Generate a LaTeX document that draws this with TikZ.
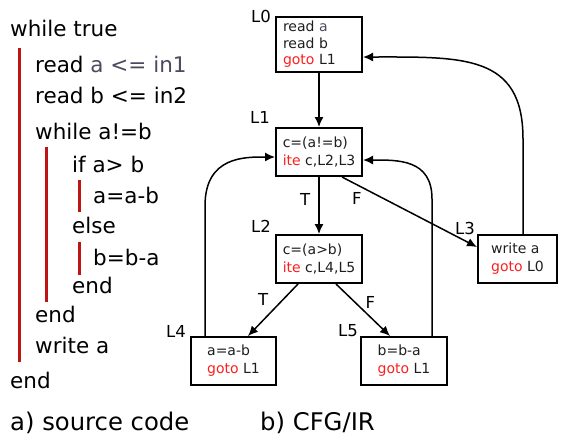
\documentclass[tikz,border=0pt]{standalone}
\usepackage{fontspec}
\setmainfont{DejaVu Sans}
\usetikzlibrary{arrows.meta,positioning}
\definecolor{irred}{RGB}{250,30,30}
\definecolor{barred}{RGB}{190,20,20}
\definecolor{vargray}{RGB}{75,75,95}
\definecolor{boxtext}{RGB}{30,30,30}
\tikzset{
  code/.style={anchor=base west,inner sep=0pt,font=\fontsize{21.5}{26}\selectfont},
  bar/.style={barred,line width=3pt},
  blk/.style={draw,line width=2pt,align=left,inner sep=3pt,text=boxtext,
    minimum width=86pt,minimum height=48pt,font=\fontsize{14}{18}\selectfont},
  lbl/.style={inner sep=0pt,font=\fontsize{16.5}{20}\selectfont},
  caption/.style={anchor=base west,inner sep=0pt,font=\fontsize{24.3}{28}\selectfont},
  edge/.style={line width=1.5pt,-{Latex[length=10pt,width=9pt]}}
}
\newcommand{\kw}[1]{{\color{irred}#1}}
\begin{document}
\begin{tikzpicture}[x=1pt,y=-1pt]
    \useasboundingbox (0,0) rectangle (561,445);
    % a) source code
    \node[code] (c1) at (10,36) {while true};
    \node[code] (c2) at (35,72) {read {\color{vargray}a <= in1}};
    \node[code] (c3) at (35,103) {read b <= in2};
    \node[code] (c4) at (35,139) {while a!=b};
    \node[code] (c5) at (72,172) {if a> b};
    \node[code] (c6) at (93,203) {a=a-b};
    \node[code] (c7) at (72,233) {else};
    \node[code] (c8) at (93,265) {b=b-a};
    \node[code] (c9) at (72,293) {end};
    \node[code] (c10) at (35,322) {end};
    \node[code] (c11) at (35,353) {write a};
    \node[code] (c12) at (10,388) {end};
    \draw[bar] (19,48) -- (19,362);
    \draw[bar] (46,147) -- (46,302);
    \draw[bar] (79,180) -- (79,212);
    \draw[bar] (79,242) -- (79,275);
    % b) CFG/IR
    \node[blk,minimum height=55pt,text width=72pt,inner xsep=7pt,
      font=\fontsize{14}{16.5}\selectfont] (L0) at (319,44.5) {read {\color{vargray}a}\\read b\\\kw{goto} L1};
    \node[blk] (L1) at (319,152) {c=(a!=b)\\\kw{ite} c,L2,L3};
    \node[blk] (L2) at (319,259) {c=(a>b)\\\kw{ite} c,L4,L5};
    \node[blk,minimum width=79pt] (L3) at (517.5,259) {write a\\\kw{goto} L0};
    \node[blk,minimum width=85pt] (L4) at (233.5,361) {a=a-b\\\kw{goto} L1};
    \node[blk] (L5) at (404,361) {b=b-a\\\kw{goto} L1};
    \node[lbl] (n0) at (261,16) {L0};
    \node[lbl] (n1) at (260,117) {L1};
    \node[lbl] (n2) at (261,226) {L2};
    \node[lbl] (n3) at (465,228) {L3};
    \node[lbl] (n4) at (176,331) {L4};
    \node[lbl] (n5) at (348,331) {L5};
    \draw[edge] (L0) -- (L1);
    \draw[edge] (L1) -- (L2) node[lbl,pos=0.4,left=8pt] {T};
    \draw[edge] ([xshift=23pt]L1.south) -- ([yshift=12pt]L3.west) node[lbl,pos=0.11,below=7pt] {F};
    \draw[edge] ([xshift=-21pt]L2.south) -- ([xshift=14.5pt]L4.north) node[lbl,pos=0.3,left=14pt] {T};
    \draw[edge] ([xshift=17pt]L2.south) -- ([xshift=-14pt]L5.north) node[lbl,pos=0.35,right=10pt] {F};
    \draw[edge] ([xshift=-28.5pt]L4.north) -- ++(0,-130) .. controls +(0,-50) and +(-30,0) .. ([yshift=-5pt]L1.west);
    \draw[edge] ([xshift=28pt]L5.north) -- ++(0,-137) .. controls +(0,-40) and +(35,0) .. ([yshift=-8pt]L1.east);
    \draw[edge] ([xshift=5.5pt]L3.north) -- ++(0,-95) .. controls +(0,-85) and +(100,0) .. ([yshift=-12.5pt]L0.east);
    % captions
    \node[caption] (capa) at (10,430) {a) source code};
    \node[caption] (capb) at (260,430) {b) CFG/IR};
\end{tikzpicture}
\end{document}
